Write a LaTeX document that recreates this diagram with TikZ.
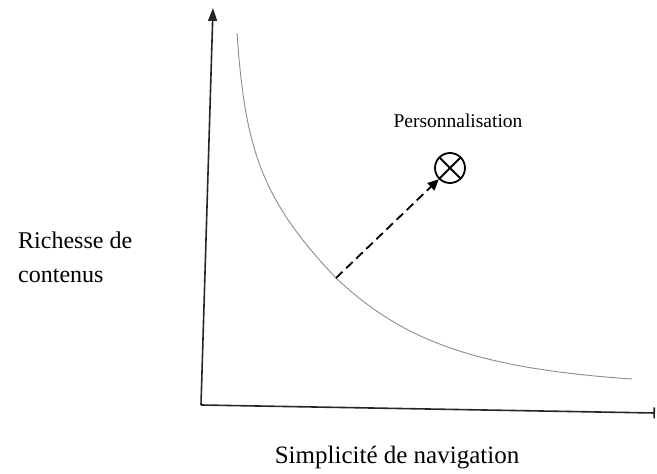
\documentclass[tikz,border=0pt]{standalone}
\usepackage{fontspec}
\setmainfont{Liberation Serif}
\usetikzlibrary{arrows.meta}
\tikzset{
  axis/.style={line width=1.6pt, black!85},
  curveline/.style={line width=0.9pt, black!45},
  dasharrow/.style={line width=1.8pt, dash pattern=on 9pt off 5pt, -{Triangle[length=11pt,width=10pt]}},
  otimesmark/.style={circle, draw, line width=1.8pt, minimum size=30pt, inner sep=0pt},
  lbl/.style={inner sep=0pt, font=\fontsize{24}{28}\selectfont, align=left}
}
\begin{document}
\begin{tikzpicture}[x=1pt,y=-1pt]
\useasboundingbox (0,0) rectangle (657,474);
% axes
\coordinate (o) at (201,405);
\coordinate (ytop) at (213,8);
\coordinate (xend) at (655,413);
\draw[axis, -{Triangle[length=13pt,width=9pt]}] (o) -- (ytop);
\draw[axis, -{Bar[width=11pt,line width=1.6pt]}] (o) -- (xend);
% curve
\draw[curveline] (237,33) .. controls (245,150) and (262,200) .. (336,278)
  .. controls (400,338) and (470,368) .. (632,379);
\coordinate (s) at (336,278);
% marker
\node[otimesmark] (p) at (450,168) {};
\draw[line width=1.8pt] (p.north west) -- (p.south east) (p.north east) -- (p.south west);
\draw[dasharrow] (s) -- (p.south west);
% labels
\node[inner sep=0pt, font=\fontsize{19.5}{22}\selectfont, anchor=base] (pl) at (458,127) {Personnalisation};
\node[lbl, anchor=base west] (r1) at (18,248) {Richesse de};
\node[lbl, anchor=base west] (r2) at (18,282) {contenus};
\node[inner sep=0pt, font=\fontsize{25}{30}\selectfont, anchor=base] (xl) at (397,463) {Simplicité de navigation};
\end{tikzpicture}
\end{document}
